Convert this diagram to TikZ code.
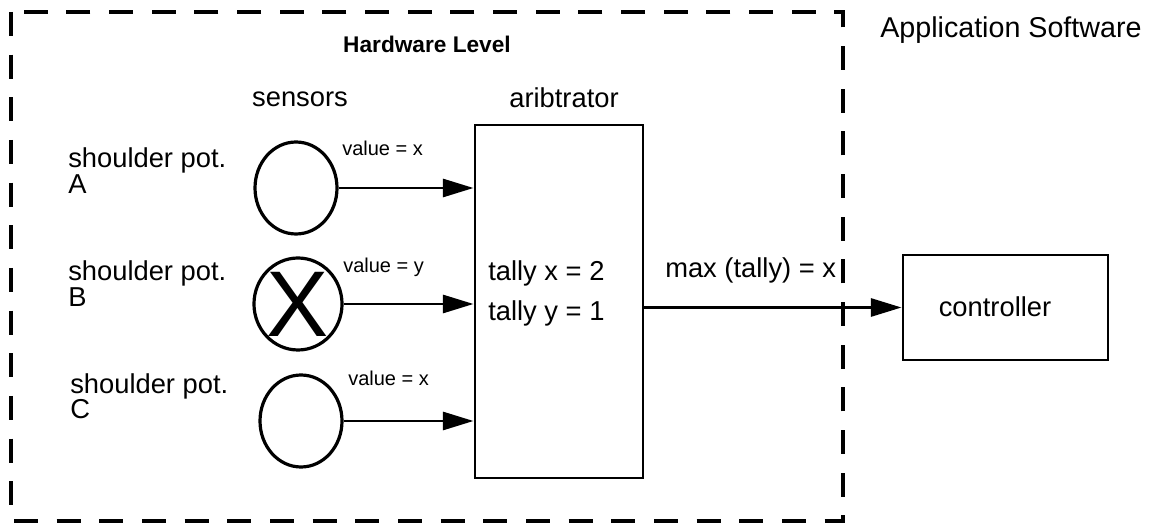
\documentclass[tikz,border=0pt]{standalone}
\usepackage{fontspec}
\setmainfont{Liberation Sans}
\usetikzlibrary{arrows.meta,shapes.geometric}
\begin{document}
\begin{tikzpicture}[x=0.75pt,y=-0.75pt,
  txt/.style={font=\fontsize{20.5}{22}\selectfont, inner sep=0pt},
  lbl/.style={font=\fontsize{15}{17}\selectfont, inner sep=0pt},
  sensor/.style={ellipse, draw, line width=2.4pt, minimum width=61.5pt, minimum height=69pt, inner sep=0pt},
  box/.style={rectangle, draw, line width=2.2pt, inner sep=0pt},
  conn/.style={line width=2.2pt, -{Triangle[length=23pt,width=13.5pt]}},
  frame/.style={line width=3pt, dash pattern=on 18pt off 14pt}
]
\useasboundingbox (0,0) rectangle (1153,523);
\draw[frame] (11,12) rectangle (843,521);

% titles
\node[txt, font=\fontsize{17}{19}\selectfont\bfseries, anchor=base] (hw) at (427,53) {Hardware Level};
\node[txt, font=\fontsize{21.5}{23}\selectfont, anchor=base west] (app) at (880,38) {Application Software};
\node[txt, anchor=base] (sens) at (300,107) {sensors};
\node[txt, anchor=base] (arbt) at (564,108) {aribtrator};

% sensors
\node[sensor] (sa) at (296,188) {};
\node[sensor] (sb) at (298,304) {\fontsize{70}{70}\selectfont X};
\node[sensor] (sc) at (301,421) {};

% sensor names
\node[txt, anchor=base west] (na1) at (68,168) {shoulder pot.};
\node[txt, anchor=base west] (na2) at (68,194) {A};
\node[txt, anchor=base west] (nb1) at (68,281) {shoulder pot.};
\node[txt, anchor=base west] (nb2) at (68,307) {B};
\node[txt, anchor=base west] (nc1) at (70,394) {shoulder pot.};
\node[txt, anchor=base west] (nc2) at (70,419) {C};

% arbitrator and controller
\node[box, minimum width=126pt, minimum height=264.75pt] (arb) at (559,301.5) {};
\node[box, minimum width=153.75pt, minimum height=78.75pt] (ctrl) at (1005.5,307.5) {};
\node[txt] (ctrlt) at (995,307) {controller};

\node[txt, anchor=base west] (tx) at (488,281) {tally x = 2};
\node[txt, anchor=base west] (ty) at (488,321) {tally y = 1};

% connectors
\draw[conn] (sa.east) -- (sa.east -| arb.west);
\draw[conn] (sb.east) -- (sb.east -| arb.west);
\draw[conn] (sc.east) -- (sc.east -| arb.west);
\draw[conn] (arb.east |- ctrl.west) -- (ctrl.west);

% labels
\node[lbl, anchor=base west] (va) at (342,156) {value = x};
\node[lbl, anchor=base west] (vb) at (343,273) {value = y};
\node[lbl, anchor=base west] (vc) at (348,386) {value = x};
\node[txt, anchor=base west] (mx) at (665,278) {max (tally) = x};
\end{tikzpicture}
\end{document}
